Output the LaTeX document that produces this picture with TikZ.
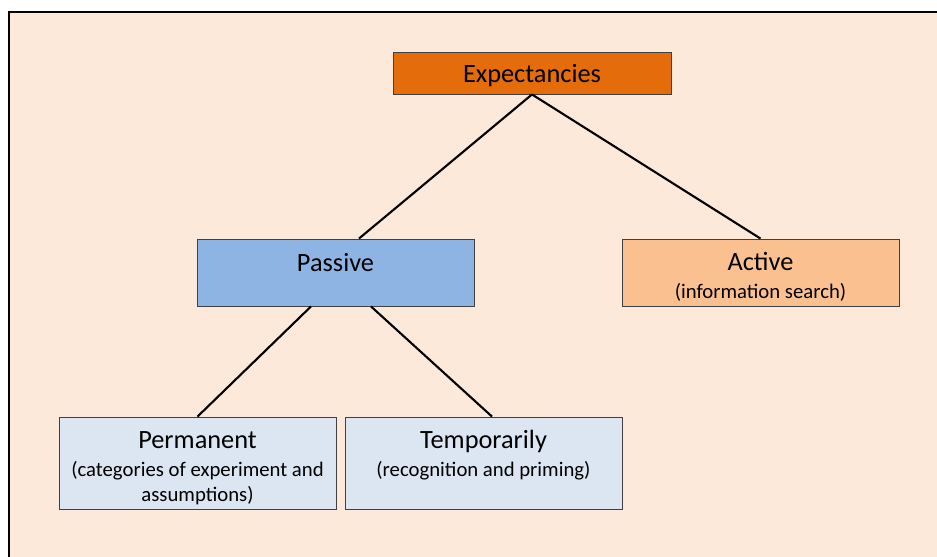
\documentclass[tikz,border=0pt]{standalone}
\usepackage{fontspec}
\setmainfont{Carlito}
\definecolor{pagefill}{HTML}{FDE9D9}
\definecolor{topfill}{HTML}{E46C0A}
\definecolor{passfill}{HTML}{8EB4E3}
\definecolor{actfill}{HTML}{FAC090}
\definecolor{kindfill}{HTML}{DCE6F2}
\newcommand{\subtxt}[1]{{\fontsize{11.8}{14}\selectfont #1}}
\begin{document}
\begin{tikzpicture}[x=0.02cm,y=-0.02cm,
  box/.style={draw=black!75,line width=0.5pt,minimum width=5.54cm,align=center,
    inner sep=0pt,font=\fontsize{15}{18}\selectfont},
  link/.style={line width=1.2pt}]
\useasboundingbox (0,0) rectangle (937,556);
% background panel
\draw[fill=pagefill,line width=1.1pt] (9,12) rectangle (980,600);
% boxes
\node[box,fill=topfill,minimum height=0.84cm,minimum width=5.56cm,text height=12.7pt] (expect) at (532,73) {Expectancies};
\node[box,fill=passfill,minimum height=1.34cm,text height=12.7pt,text depth=14.2pt] (passive) at (335.5,272.5) {Passive};
\node[box,fill=actfill,minimum height=1.34cm,text height=31pt] (active) at (760.5,272.5) {Active\\[-2pt]\subtxt{(information search)}};
\node[box,fill=kindfill,minimum height=1.84cm,text height=45.7pt] (perm) at (197.5,463) {Permanent\\[-2pt]\subtxt{(categories of experiment and}\\[-4pt]\subtxt{assumptions)}};
\node[box,fill=kindfill,minimum height=1.84cm,text height=47.7pt] (temp) at (483.5,463) {Temporarily\\[-2pt]\subtxt{(recognition and priming)}\\[-4pt]\subtxt{\strut}};
% connectors
\draw[link] (expect.south) -- ([xshift=0.47cm]passive.north);
\draw[link] (expect.south) -- (active.north);
\draw[link] ([xshift=-0.49cm]passive.south) -- (perm.north);
\draw[link] ([xshift=0.71cm]passive.south) -- ([xshift=0.17cm]temp.north);
\end{tikzpicture}
\end{document}
